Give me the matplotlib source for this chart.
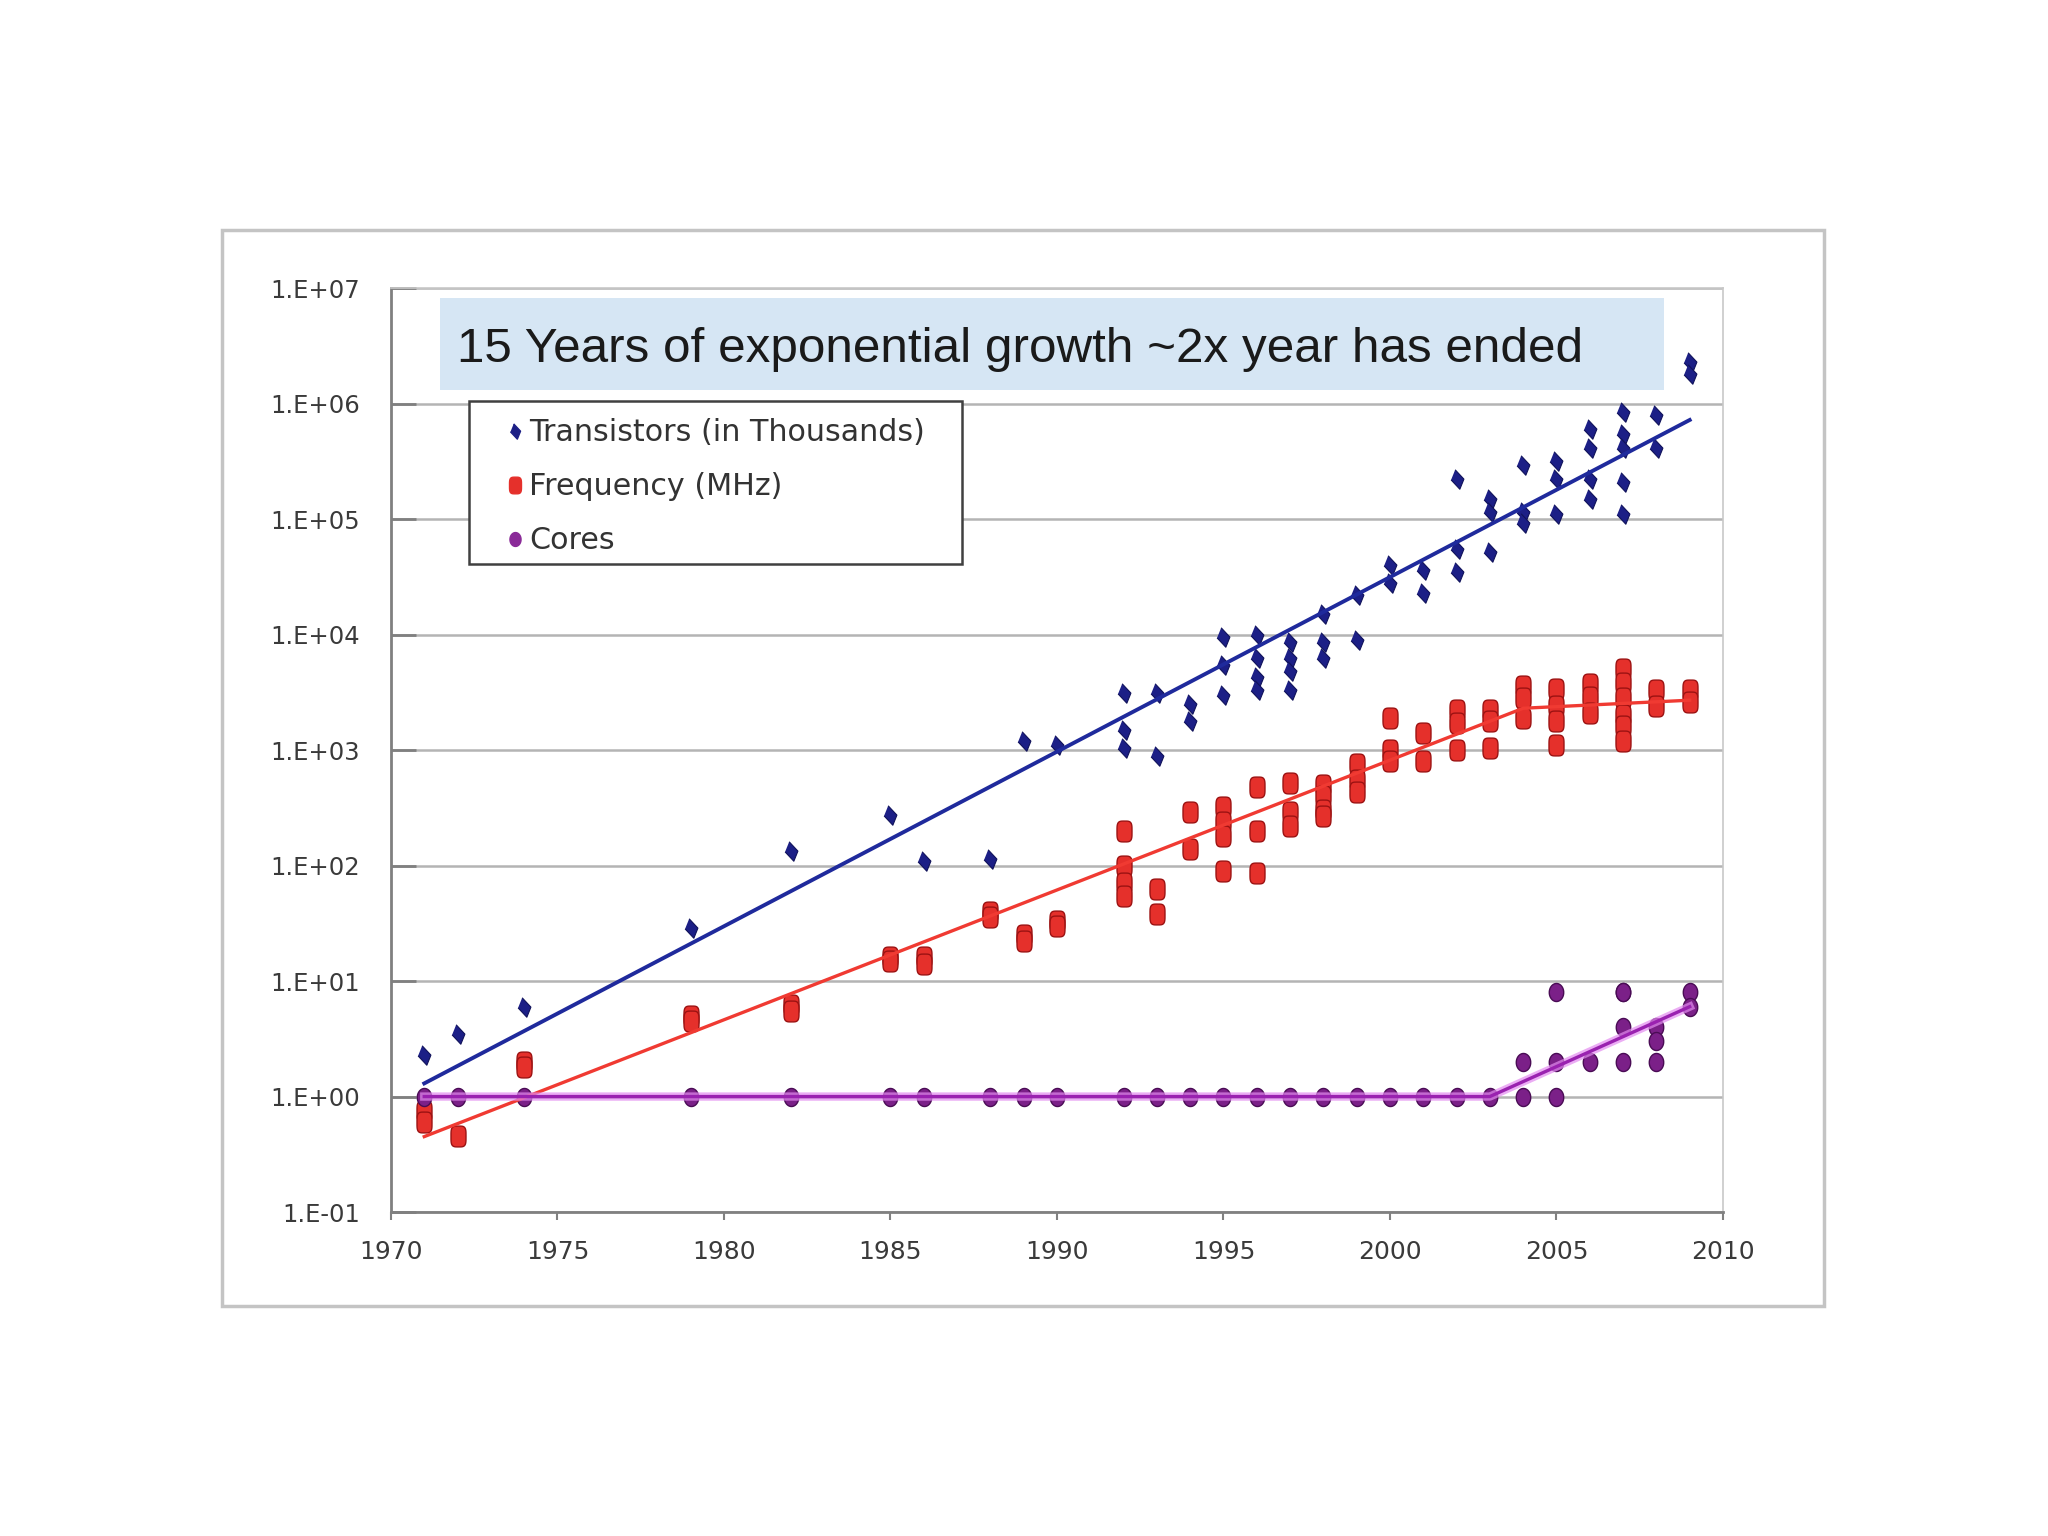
import numpy as np
import matplotlib
matplotlib.use("Agg")
import matplotlib.pyplot as plt
from matplotlib import font_manager
from matplotlib.lines import Line2D
from matplotlib.patches import Rectangle
from matplotlib.ticker import FuncFormatter


# =====================
# Data
# =====================
TITLE = "15 Years of exponential growth ~2x year has ended"
LABELS = ["Transistors (in Thousands)", "Frequency (MHz)", "Cores"]

TRANSISTOR_YEARS = [1971, 1972, 1974, 1979, 1982, 1985, 1986, 1988, 1989, 1990,
                    1992, 1993, 1994, 1995, 1996, 1997, 1998, 1999, 2000, 2001,
                    2002, 2003, 2004, 2005, 2006, 2007, 2008, 2009]
TRANSISTOR_K = [[2.3], [3.5], [6], [29], [134], [275], [110], [115], [1200], [1100],
                [3100, 1500, 1050], [3100, 880], [2500, 1800], [9500, 5500, 3000],
                [10000, 6300, 4300, 3300], [8700, 6300, 4800, 3300],
                [15000, 8700, 6300], [22000, 9000], [40000, 28000], [36000, 23000],
                [220000, 55000, 35000], [150000, 115000, 52000],
                [295000, 115000, 93000], [316000, 224000, 110000],
                [600000, 410000, 224000, 150000],
                [850000, 540000, 410000, 210000, 110000],
                [800000, 410000], [2300000, 1800000]]

FREQ_YEARS = [1971, 1972, 1974, 1979, 1982, 1985, 1986, 1988, 1989, 1990,
              1992, 1993, 1994, 1995, 1996, 1997, 1998, 1999, 2000, 2001,
              2002, 2003, 2004, 2005, 2006, 2007, 2008, 2009]
FREQ_MHZ = [[0.75, 0.6], [0.46], [2.0, 1.8], [5, 4.5], [6.2, 5.5], [16, 15], [16, 14],
            [40, 36], [25, 22], [33, 30], [200, 100, 70, 55], [63, 38], [290, 140],
            [320, 240, 180, 90], [480, 200, 87], [520, 290, 220],
            [500, 400, 300, 270], [750, 550, 430], [1900, 1000, 800], [1400, 800],
            [2200, 1700, 1000], [2200, 1800, 1050], [3600, 2800, 1900],
            [3400, 2400, 1800, 1100], [3700, 2900, 2100],
            [5000, 3800, 2800, 2000, 1600, 1200], [3300, 2400], [3300, 2600]]

CORE_YEARS = [1971, 1972, 1974, 1979, 1982, 1985, 1986, 1988, 1989, 1990,
              1992, 1993, 1994, 1995, 1996, 1997, 1998, 1999, 2000, 2001,
              2002, 2003, 2004, 2005, 2006, 2007, 2008, 2009]
CORES = [[1], [1], [1], [1], [1], [1], [1], [1], [1], [1],
         [1], [1], [1], [1], [1], [1], [1], [1], [1], [1],
         [1], [1], [2, 1], [8, 2, 1], [2], [8, 8, 4, 2], [4, 3, 2], [8, 6]]

# trend lines as drawn on the chart
TRANSISTOR_TREND_YEARS = [1971, 2009]
TRANSISTOR_TREND = [1.3, 720000]
FREQ_TREND_YEARS = [1971, 2004, 2009]
FREQ_TREND = [0.45, 2300, 2700]
CORE_TREND_YEARS = [1971, 2003, 2009]
CORE_TREND = [1, 1, 6]

X_TICKS = list(range(1970, 2011, 5))
Y_TICKS = [1e-1, 1e0, 1e1, 1e2, 1e3, 1e4, 1e5, 1e6, 1e7]


def flatten(years, groups):
    xs, ys = [], []
    for yr, vals in zip(years, groups):
        for v in vals:
            xs.append(yr)
            ys.append(v)
    return xs, ys


def make_markers():
    t = np.linspace(0, 2 * np.pi, 48)
    diamond = [(-0.12, 0.5), (0.33, 0.02), (0.12, -0.5), (-0.33, -0.02)]
    c, s = np.cos(t), np.sin(t)
    rounded = np.column_stack([0.36 * np.sign(c) * np.abs(c) ** 0.5,
                               0.5 * np.sign(s) * np.abs(s) ** 0.5])
    oval = np.column_stack([0.4 * c, 0.5 * s])
    return diamond, rounded, oval


def main():
    names = {f.name for f in font_manager.fontManager.ttflist}
    if "Liberation Sans Narrow" in names:
        title_family, title_size = "Liberation Sans Narrow", 43
    else:
        title_family, title_size = "Liberation Sans", 35.6

    diamond, rounded, oval = make_markers()

    fig = plt.figure(figsize=(20.48, 15.36), dpi=100)
    fig.patches.append(Rectangle((0.1084, 0.1497), 0.7822, 0.7006,
                                 transform=fig.transFigure, fill=False,
                                 ec="#c4c4c4", lw=2.5))

    ax = fig.add_axes([0.1909, 0.2109, 0.6504, 0.6016])
    ax.set_yscale("log")
    ax.set_xlim(1970, 2010)
    ax.set_ylim(1e-1, 1e7)

    # =====================
    # Points
    # =====================
    tx, ty = flatten(TRANSISTOR_YEARS, TRANSISTOR_K)
    fx, fy = flatten(FREQ_YEARS, FREQ_MHZ)
    cx, cy = flatten(CORE_YEARS, CORES)

    ax.plot(tx, ty, ls="none", marker=diamond, ms=14, color="#1c1f86",
            mec="#10125a", mew=0.8, zorder=3)
    ax.plot(fx, fy, ls="none", marker=rounded, ms=15, color="#e5302b",
            mec="#9c1212", mew=1.0, zorder=3)
    ax.plot(cx, cy, ls="none", marker=oval, ms=13, color="#7b2088",
            mec="#4a0c55", mew=1.0, zorder=3)

    # =====================
    # Trend lines
    # =====================
    ax.plot(TRANSISTOR_TREND_YEARS, TRANSISTOR_TREND, color="#1f2a9c", lw=2.8, zorder=4)
    ax.plot(FREQ_TREND_YEARS, FREQ_TREND, color="#f03a32", lw=2.4, zorder=4)
    ax.plot(CORE_TREND_YEARS, CORE_TREND, color="#e38af0", lw=6, alpha=0.7, zorder=4)
    ax.plot(CORE_TREND_YEARS, CORE_TREND, color="#9a22b0", lw=2.4, zorder=4)

    # =====================
    # Axes styling
    # =====================
    ax.set_xticks(X_TICKS)
    ax.set_yticks(Y_TICKS)
    ax.yaxis.set_minor_locator(plt.NullLocator())
    ax.yaxis.set_major_formatter(
        FuncFormatter(lambda v, p: "1.E{:+03d}".format(int(round(np.log10(v))))))
    ax.grid(axis="y", color="#b4b4b4", lw=1.8, zorder=0)
    ax.set_axisbelow(True)
    for side in ("left", "bottom"):
        ax.spines[side].set_color("#808080")
        ax.spines[side].set_linewidth(2.0)
    for side in ("top", "right"):
        ax.spines[side].set_color("#c8c8c8")
        ax.spines[side].set_linewidth(1.2)
    ax.tick_params(axis="y", direction="in", length=18, width=2.0, color="#808080",
                   labelsize=17.5, labelcolor="#3a3a3a", pad=22)
    ax.tick_params(axis="x", direction="out", length=6, width=1.5, color="#808080",
                   labelsize=18, labelcolor="#3a3a3a", pad=14)

    # =====================
    # Title banner
    # =====================
    ax.add_patch(Rectangle((0.0368, 0.890), 0.919, 0.099, transform=ax.transAxes,
                           fc="#d6e6f4", ec="none", zorder=2))
    ax.text(0.0495, 0.933, TITLE, transform=ax.transAxes, ha="left", va="center",
            fontsize=title_size, family=title_family, color="#1a1a1a", zorder=6)

    # =====================
    # Legend
    # =====================
    ax.add_patch(Rectangle((0.0586, 0.7013), 0.3701, 0.1764, transform=ax.transAxes,
                           fc="white", ec="#404040", lw=1.8, zorder=5))
    handles = [
        Line2D([], [], ls="none", marker=diamond, ms=11, color="#1c1f86"),
        Line2D([], [], ls="none", marker=rounded, ms=12, color="#e5302b"),
        Line2D([], [], ls="none", marker=oval, ms=10, color="#8a2a98"),
    ]
    leg = ax.legend(handles, LABELS, loc="upper left", bbox_to_anchor=(0.080, 0.869),
                    frameon=False, fontsize=21.7, handlelength=0.55, handletextpad=0.2,
                    labelspacing=0.83, borderaxespad=0, borderpad=0.3)
    for txt in leg.get_texts():
        txt.set_color("#333333")
    leg.set_zorder(6)

    fig.savefig("out.png", dpi=100, facecolor="white")


if __name__ == "__main__":
    main()
